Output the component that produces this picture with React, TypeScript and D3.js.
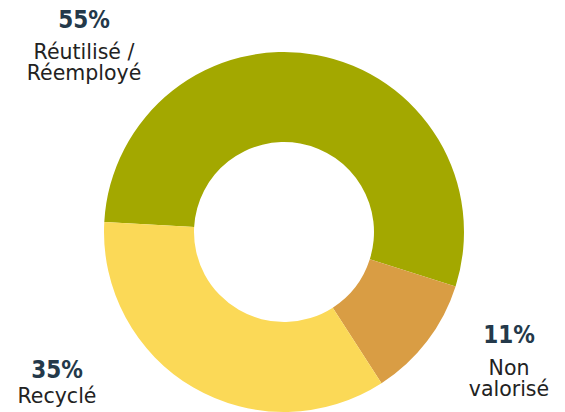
import React from 'react';
import * as d3 from 'd3';

const categories = ['Réutilisé / Réemployé', 'Non valorisé', 'Recyclé'];
const shares = [54, 11, 35];
const percentLabels = ['55%', '11%', '35%'];
const labelLines = [['Réutilisé /', 'Réemployé'], ['Non', 'valorisé'], ['Recyclé']];
const colors = ['#a3a800', '#d99d44', '#fbd957'];

const width = 565;
const height = 412;
const cx = 284;
const cy = 232;
const outerR = 180;
const innerR = 90;

// where each label block sits (pct baseline, first text line baseline)
const labelPos = [
  { x: 84, pctY: 28, textY: 59 },
  { x: 509, pctY: 343, textY: 375 },
  { x: 57, pctY: 378, textY: 403 },
];

export default function App() {
  const start = (273.2 * Math.PI) / 180;
  const pie = d3
    .pie<number>()
    .sort(null)
    .value((d) => d)
    .startAngle(start)
    .endAngle(start + 2 * Math.PI);
  const arc = d3.arc<d3.PieArcDatum<number>>().innerRadius(innerR).outerRadius(outerR);
  const arcs = pie(shares);

  return (
    <svg
      width={width}
      height={height}
      style={{ position: 'absolute', left: 0, top: 0, background: '#fff' }}
    >
      <g transform={`translate(${cx},${cy})`}>
        {arcs.map((a, i) => (
          <path key={categories[i]} d={arc(a) || ''} fill={colors[i]} />
        ))}
      </g>
      {labelPos.map((p, i) => (
        <g key={categories[i]} textAnchor="middle">
          <text
            x={p.x}
            y={p.pctY}
            fontFamily="'DejaVu Sans Condensed', 'DejaVu Sans', sans-serif"
            fontWeight="bold"
            fontSize={24}
            fill="#24394a"
          >
            {percentLabels[i]}
          </text>
          {labelLines[i].map((line, j) => (
            <text
              key={line}
              x={p.x}
              y={p.textY + j * 20.5}
              fontFamily="'DejaVu Sans', sans-serif"
              fontSize={20.5}
              fill="#222"
            >
              {line}
            </text>
          ))}
        </g>
      ))}
    </svg>
  );
}
